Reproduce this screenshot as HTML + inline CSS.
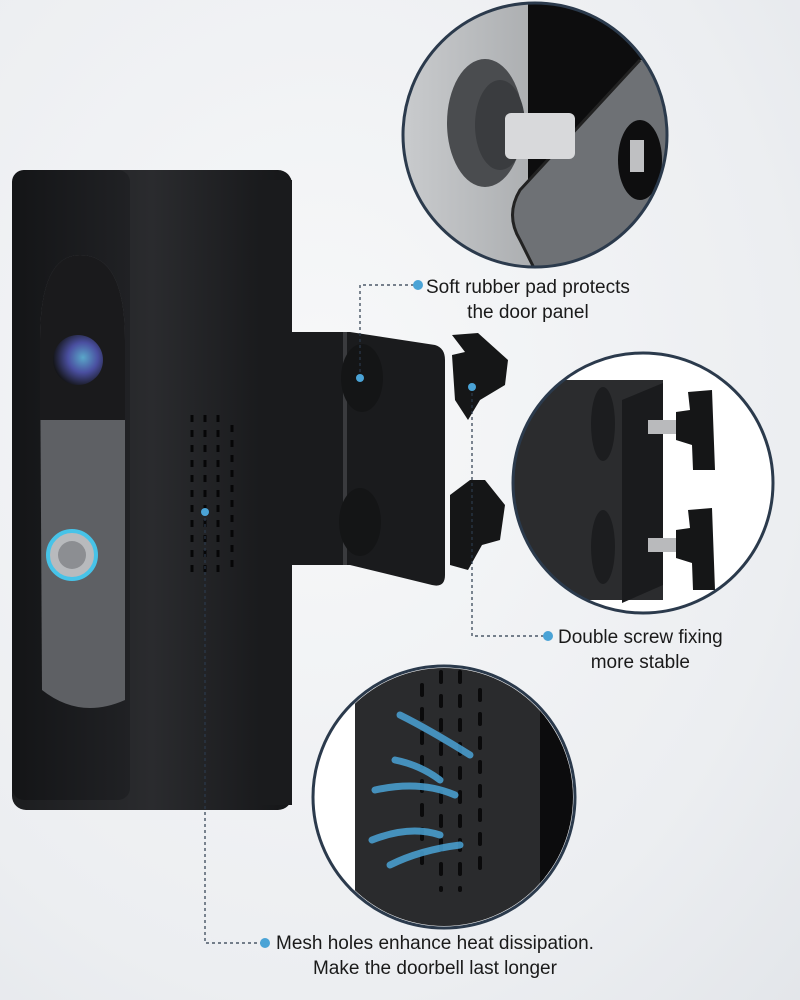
<!DOCTYPE html>
<html><head><style>
html,body{margin:0;padding:0}
body{width:800px;height:1000px;position:relative;overflow:hidden;background:radial-gradient(ellipse at 40% 40%,#f7f8f9 0%,#eceef1 70%,#e3e6ea 100%);font-family:"Liberation Sans",sans-serif}
.t{position:absolute;font-size:19px;color:#1a1a1a;text-align:center;line-height:25px;white-space:nowrap}
</style></head><body>
<svg width="800" height="1000" style="position:absolute;left:0;top:0">
<defs>
<linearGradient id="g1" x1="0" x2="1"><stop offset="0" stop-color="#c9cbcd"/><stop offset="1" stop-color="#8e9194"/></linearGradient>
<linearGradient id="box" x1="0" x2="1"><stop offset="0" stop-color="#1c1d1f"/><stop offset="0.5" stop-color="#2a2b2e"/><stop offset="1" stop-color="#151618"/></linearGradient>
<linearGradient id="face" x1="0" x2="1"><stop offset="0" stop-color="#141517"/><stop offset="1" stop-color="#202124"/></linearGradient>
<radialGradient id="lens" cx="0.6" cy="0.45" r="0.6"><stop offset="0" stop-color="#5aa7c9"/><stop offset="0.5" stop-color="#4a4fa0"/><stop offset="1" stop-color="#15161a"/></radialGradient>
<clipPath id="k1"><circle cx="535" cy="135" r="131"/></clipPath>
<clipPath id="k2"><circle cx="643" cy="483" r="129"/></clipPath>
<clipPath id="k3"><circle cx="444" cy="797" r="129"/></clipPath>
</defs>
<!-- top circle -->
<circle cx="535" cy="135" r="132" fill="url(#g1)"/>
<g clip-path="url(#k1)">
<rect x="528" y="0" width="150" height="200" fill="#0d0d0e"/>
<path d="M640 60 L520 190 Q505 215 520 240 L540 280 L700 280 L700 60Z" fill="#6e7175"/>
<path d="M640 60 L520 190 Q505 215 520 240 L540 280" fill="none" stroke="#222" stroke-width="3"/>
<ellipse cx="485" cy="123" rx="38" ry="64" fill="#4a4c4f"/>
<ellipse cx="500" cy="125" rx="25" ry="45" fill="#3a3c3f"/>
<rect x="505" y="113" width="70" height="46" rx="6" fill="#d8d9db"/>
<ellipse cx="640" cy="160" rx="22" ry="40" fill="#0e0e0f"/>
<rect x="630" y="140" width="14" height="32" fill="#bfc0c2"/>
</g>
<circle cx="535" cy="135" r="132" fill="none" stroke="#2b3a4c" stroke-width="3"/>
<!-- right circle -->
<circle cx="643" cy="483" r="130" fill="#ffffff"/>
<g clip-path="url(#k2)">
<rect x="500" y="380" width="163" height="220" fill="#2b2c2e"/>
<path d="M622 400 L663 383 L663 585 L622 603 Z" fill="#1a1b1d"/>
<ellipse cx="603" cy="424" rx="12" ry="37" fill="#1c1d1f"/>
<ellipse cx="603" cy="547" rx="12" ry="37" fill="#1c1d1f"/>
<rect x="648" y="420" width="30" height="14" fill="#b9babc"/>
<rect x="648" y="538" width="30" height="14" fill="#b9babc"/>
<path d="M676 412 L690 410 L688 392 L712 390 L715 470 L693 470 L692 445 L676 440Z" fill="#151617"/>
<path d="M676 530 L690 528 L688 510 L712 508 L715 590 L693 590 L692 563 L676 558Z" fill="#151617"/>
</g>
<circle cx="643" cy="483" r="130" fill="none" stroke="#2b3a4c" stroke-width="3"/>
<!-- bottom circle -->
<circle cx="444" cy="797" r="131" fill="#ffffff"/>
<g clip-path="url(#k3)">
<rect x="355" y="660" width="190" height="280" fill="#2a2b2d"/>
<rect x="540" y="660" width="40" height="280" fill="#0c0c0d"/>
<g stroke="#0a0a0b" stroke-width="4" stroke-linecap="round" stroke-dasharray="10 14">
<line x1="422" y1="685" x2="422" y2="875"/><line x1="441" y1="672" x2="441" y2="890"/><line x1="460" y1="672" x2="460" y2="890"/><line x1="480" y1="690" x2="480" y2="875"/>
</g>
<g fill="none" stroke="#4aa3d6" stroke-width="7" stroke-linecap="round" opacity=".85">
<path d="M470 755 Q430 730 400 715"/><path d="M440 780 Q420 765 395 760"/><path d="M455 795 Q420 780 375 790"/><path d="M440 835 Q410 825 372 840"/><path d="M460 845 Q420 850 390 865"/>
</g>
</g>
<circle cx="444" cy="797" r="131" fill="none" stroke="#2b3a4c" stroke-width="3"/>
<!-- bracket -->
<path d="M290 332 L350 332 L435 345 Q445 348 445 360 L445 575 Q445 588 432 585 L350 565 L290 565 Z" fill="#1a1b1d"/>
<rect x="343" y="332" width="4" height="233" fill="#3a3b3e"/>
<ellipse cx="362" cy="378" rx="21" ry="34" fill="#141516"/><ellipse cx="360" cy="522" rx="21" ry="34" fill="#141516"/>
<path d="M452 355 L465 352 L452 335 L478 333 L508 360 L505 385 L480 400 L468 420 L455 400Z" fill="#151617"/>
<path d="M450 495 L470 480 L485 480 L505 505 L500 540 L482 545 L468 570 L450 565Z" fill="#151617"/>
<!-- doorbell body -->
<rect x="12" y="170" width="280" height="640" rx="14" fill="url(#box)"/>
<rect x="12" y="170" width="118" height="630" rx="12" fill="url(#face)"/>
<rect x="258" y="180" width="34" height="625" fill="#1a1b1d"/>
<path d="M40 340 Q40 255 80 255 Q125 255 125 340 L125 700 Q80 720 42 690 Z" fill="#5e6064"/>
<path d="M40 340 Q40 255 80 255 Q125 255 125 340 L125 420 L40 420Z" fill="#1a1a1c"/>
<circle cx="78" cy="360" r="25" fill="url(#lens)"/>
<circle cx="72" cy="555" r="24" fill="#b8babd" stroke="#47c3e8" stroke-width="4"/>
<circle cx="72" cy="555" r="14" fill="#8c8e92"/>
<g stroke="#060607" stroke-width="3" stroke-dasharray="7 8">
<line x1="192" y1="415" x2="192" y2="580"/><line x1="205" y1="415" x2="205" y2="580"/><line x1="218" y1="415" x2="218" y2="580"/><line x1="232" y1="425" x2="232" y2="570"/>
</g>
<!-- connectors -->
<g stroke="#2b3a4c" stroke-width="1.2" stroke-dasharray="3 3" fill="none">
<path d="M360 378 L360 285 L418 285"/>
<path d="M472 387 L472 636 L548 636"/>
<path d="M205 512 L205 943 L262 943"/>
</g>
<g fill="#4aa3d6"><circle cx="418" cy="285" r="5"/><circle cx="548" cy="636" r="5"/><circle cx="265" cy="943" r="5"/><circle cx="205" cy="512" r="4"/><circle cx="360" cy="378" r="4"/><circle cx="472" cy="387" r="4"/></g>
</svg>
<div class="t" style="left:426px;top:275px">Soft rubber pad protects<br>the door panel</div>
<div class="t" style="left:558px;top:625px">Double screw fixing<br>more stable</div>
<div class="t" style="left:276px;top:931px">Mesh holes enhance heat dissipation.<br>Make the doorbell last longer</div>
</body></html>
